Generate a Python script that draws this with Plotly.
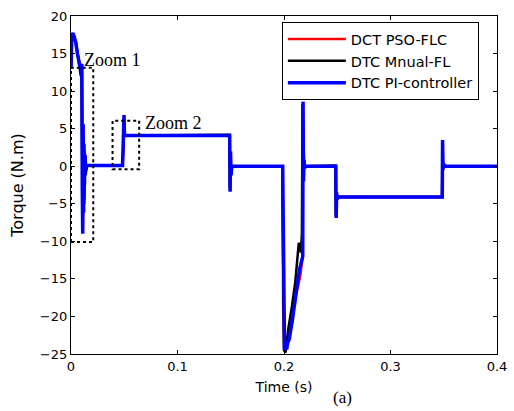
import plotly.graph_objects as go

# DCT PSO-FLC (red)
t_pso = [0, 0.0008, 0.002, 0.003, 0.0045, 0.006, 0.0075, 0.0085, 0.0095, 0.0102,
         0.0107, 0.0112, 0.0118, 0.0124, 0.013, 0.0138, 0.0146,
         0.0483, 0.0488, 0.0493, 0.0497, 0.0501, 0.051,
         0.1489, 0.1493, 0.1498, 0.1504, 0.151,
         0.1986, 0.1992, 0.2002, 0.2015, 0.2028, 0.2045, 0.2083, 0.2098, 0.2125,
         0.2154, 0.2172, 0.2177, 0.2182, 0.2188, 0.2196,
         0.2484, 0.2489, 0.2494, 0.2499, 0.251,
         0.3485, 0.3489, 0.3494, 0.35, 0.351, 0.4]
v_pso = [13, 17.3, 17.6, 17.1, 16.4, 15.1, 13.9, 13.3, 13.4, 13.5,
         -2, -8, 4.5, -4.5, 2, -1, 0.1,
         0.1, 1.6, 2.9, 6.5, 4.3, 4.1,
         4.1, -3.2, 1.8, -1, 0,
         0, -19, -24.2, -24.3, -23.6, -22.8, -20.5, -17.6, -16.4,
         -14.5, -12.4, 8.3, -1.5, 0.6, 0,
         0, -6.7, -3.6, -4.3, -4.1,
         -4.1, 3.3, -0.4, 0.3, 0, 0]

# DTC Mnual-FL (black)
t_mfl = [0, 0.0008, 0.002, 0.003, 0.0045, 0.006, 0.0075, 0.0085, 0.0092, 0.0098,
         0.0104, 0.011, 0.0117, 0.0124, 0.0131, 0.0138, 0.0148,
         0.0482, 0.0487, 0.0492, 0.0496, 0.05, 0.051,
         0.1488, 0.1492, 0.1497, 0.1503, 0.151,
         0.1984, 0.199, 0.2, 0.2014, 0.2026, 0.2042, 0.2075, 0.2105, 0.2139,
         0.2158, 0.2168, 0.2174, 0.2181, 0.2188, 0.2197,
         0.2482, 0.2487, 0.2492, 0.2498, 0.251,
         0.3484, 0.3488, 0.3493, 0.35, 0.351, 0.4]
v_mfl = [13, 17.4, 17.7, 17.2, 16.6, 15.2, 13.5, 12.4, 12.0, 13.2,
         -1, -7.4, 3.8, -5, 1.5, -1.2, 0.1,
         0.1, 1.2, 2.4, 6.3, 4.4, 4.1,
         4.2, -3, 1.6, -0.8, 0,
         0, -7.5, -24.5, -24.8, -23.4, -21.5, -18.6, -15.5, -10.2,
         -11.5, -9, 8.2, 4, 0.8, 0,
         0.1, -6.6, -3.8, -4.3, -4.1,
         -4.1, 3.2, -0.5, 0.3, 0, 0]

# DTC PI-controller (blue)
t_pi = [0, 0.0008, 0.002, 0.003, 0.0045, 0.006, 0.0075, 0.0085, 0.0095, 0.0102,
        0.0106, 0.011, 0.0114, 0.0118, 0.0122, 0.0126, 0.0132, 0.0138, 0.0147,
        0.0484, 0.0488, 0.0492, 0.0495, 0.0498, 0.0502, 0.051,
        0.149, 0.1494, 0.1498, 0.1503, 0.151,
        0.1988, 0.1995, 0.2005, 0.2015, 0.2025, 0.2035, 0.205, 0.2083, 0.2114,
        0.2145, 0.2176, 0.2179, 0.2183, 0.2188, 0.2194, 0.2198,
        0.2487, 0.249, 0.2494, 0.2499, 0.251,
        0.3486, 0.3489, 0.3493, 0.3499, 0.351, 0.4]
v_pi = [13, 17.5, 17.7, 17.2, 16.5, 15, 13.8, 13.2, 13.4, 13.6,
        -3, -9, 5.6, -6.2, 3, -2.5, 1.5, -0.5, 0.1,
        0.1, 1.5, 2.8, 3.3, 6.8, 4.3, 4.1,
        4.1, -3.4, 2, -1.2, 0,
        0, -15, -24.5, -23.8, -24.4, -23.5, -23, -20, -17.2,
        -13.8, -12, 8.6, -2, 0.8, -0.3, 0,
        0, -6.9, -3.5, -4.4, -4.1,
        -4.1, 3.5, -0.4, 0.3, 0, 0]

series = [
    ("DCT PSO-FLC", t_pso, v_pso, "#ff0000", 2.5),
    ("DTC Mnual-FL", t_mfl, v_mfl, "#000000", 2.5),
    ("DTC PI-controller", t_pi, v_pi, "#0000ff", 3.5),
]

# dotted zoom windows: (x0, x1, y0, y1, label)
zoom_boxes = [
    (0.0, 0.0209, -10.1, 13.1, "Zoom 1"),
    (0.039, 0.064, -0.4, 6.05, "Zoom 2"),
]
zoom_label_pos = [(0.0099, 14.15), (0.0676, 5.74)]

x_ticks = [0, 0.1, 0.2, 0.3, 0.4]
y_ticks = [-25, -20, -15, -10, -5, 0, 5, 10, 15, 20]

SANS = "DejaVu Sans, Arial"

fig = go.Figure()
for name, t, v, color, width in series:
    fig.add_trace(go.Scatter(x=t, y=v, mode="lines", name=name,
                             line=dict(color=color, width=width)))

for (x0, x1, y0, y1, label), (lx, ly) in zip(zoom_boxes, zoom_label_pos):
    fig.add_shape(type="rect", x0=x0, x1=x1, y0=y0, y1=y1,
                  line=dict(color="black", width=2, dash="dot"))
    fig.add_annotation(x=lx, y=ly, text=label, showarrow=False, xanchor="left",
                       font=dict(family="Liberation Serif", size=18, color="black"))

fig.add_annotation(x=0.638, y=-0.13, xref="paper", yref="paper", text="(a)",
                   showarrow=False, yanchor="middle",
                   font=dict(family="Liberation Serif", size=17, color="black"))

axis_style = dict(showline=True, linecolor="black", linewidth=1.3, mirror="ticks",
                  ticks="inside", ticklen=4, tickcolor="black", showgrid=False,
                  zeroline=False, automargin=False,
                  tickfont=dict(family=SANS, size=13, color="black"))

fig.update_xaxes(range=[0, 0.4], tickvals=x_ticks, ticktext=[f"{x:g}" for x in x_ticks],
                 title=dict(text="Time (s)", font=dict(family=SANS, size=14, color="black"),
                            standoff=9),
                 **axis_style)
fig.update_yaxes(range=[-25, 20], tickvals=y_ticks,
                 title=dict(text="Torque (N.m)", font=dict(family=SANS, size=16, color="black"),
                            standoff=12),
                 **axis_style)

fig.update_layout(
    width=514, height=411,
    margin=dict(l=71, r=17, t=16, b=57),
    paper_bgcolor="white", plot_bgcolor="white",
    font=dict(family=SANS, color="black"),
    legend=dict(x=0.495, y=0.982, xanchor="left", yanchor="top",
                bgcolor="white", bordercolor="black", borderwidth=1,
                font=dict(family=SANS, size=14.5, color="black"),
                itemwidth=58, tracegroupgap=0),
)

fig.write_html("out.html", config={"displayModeBar": False},
               post_script="document.body.style.margin = '0';")
